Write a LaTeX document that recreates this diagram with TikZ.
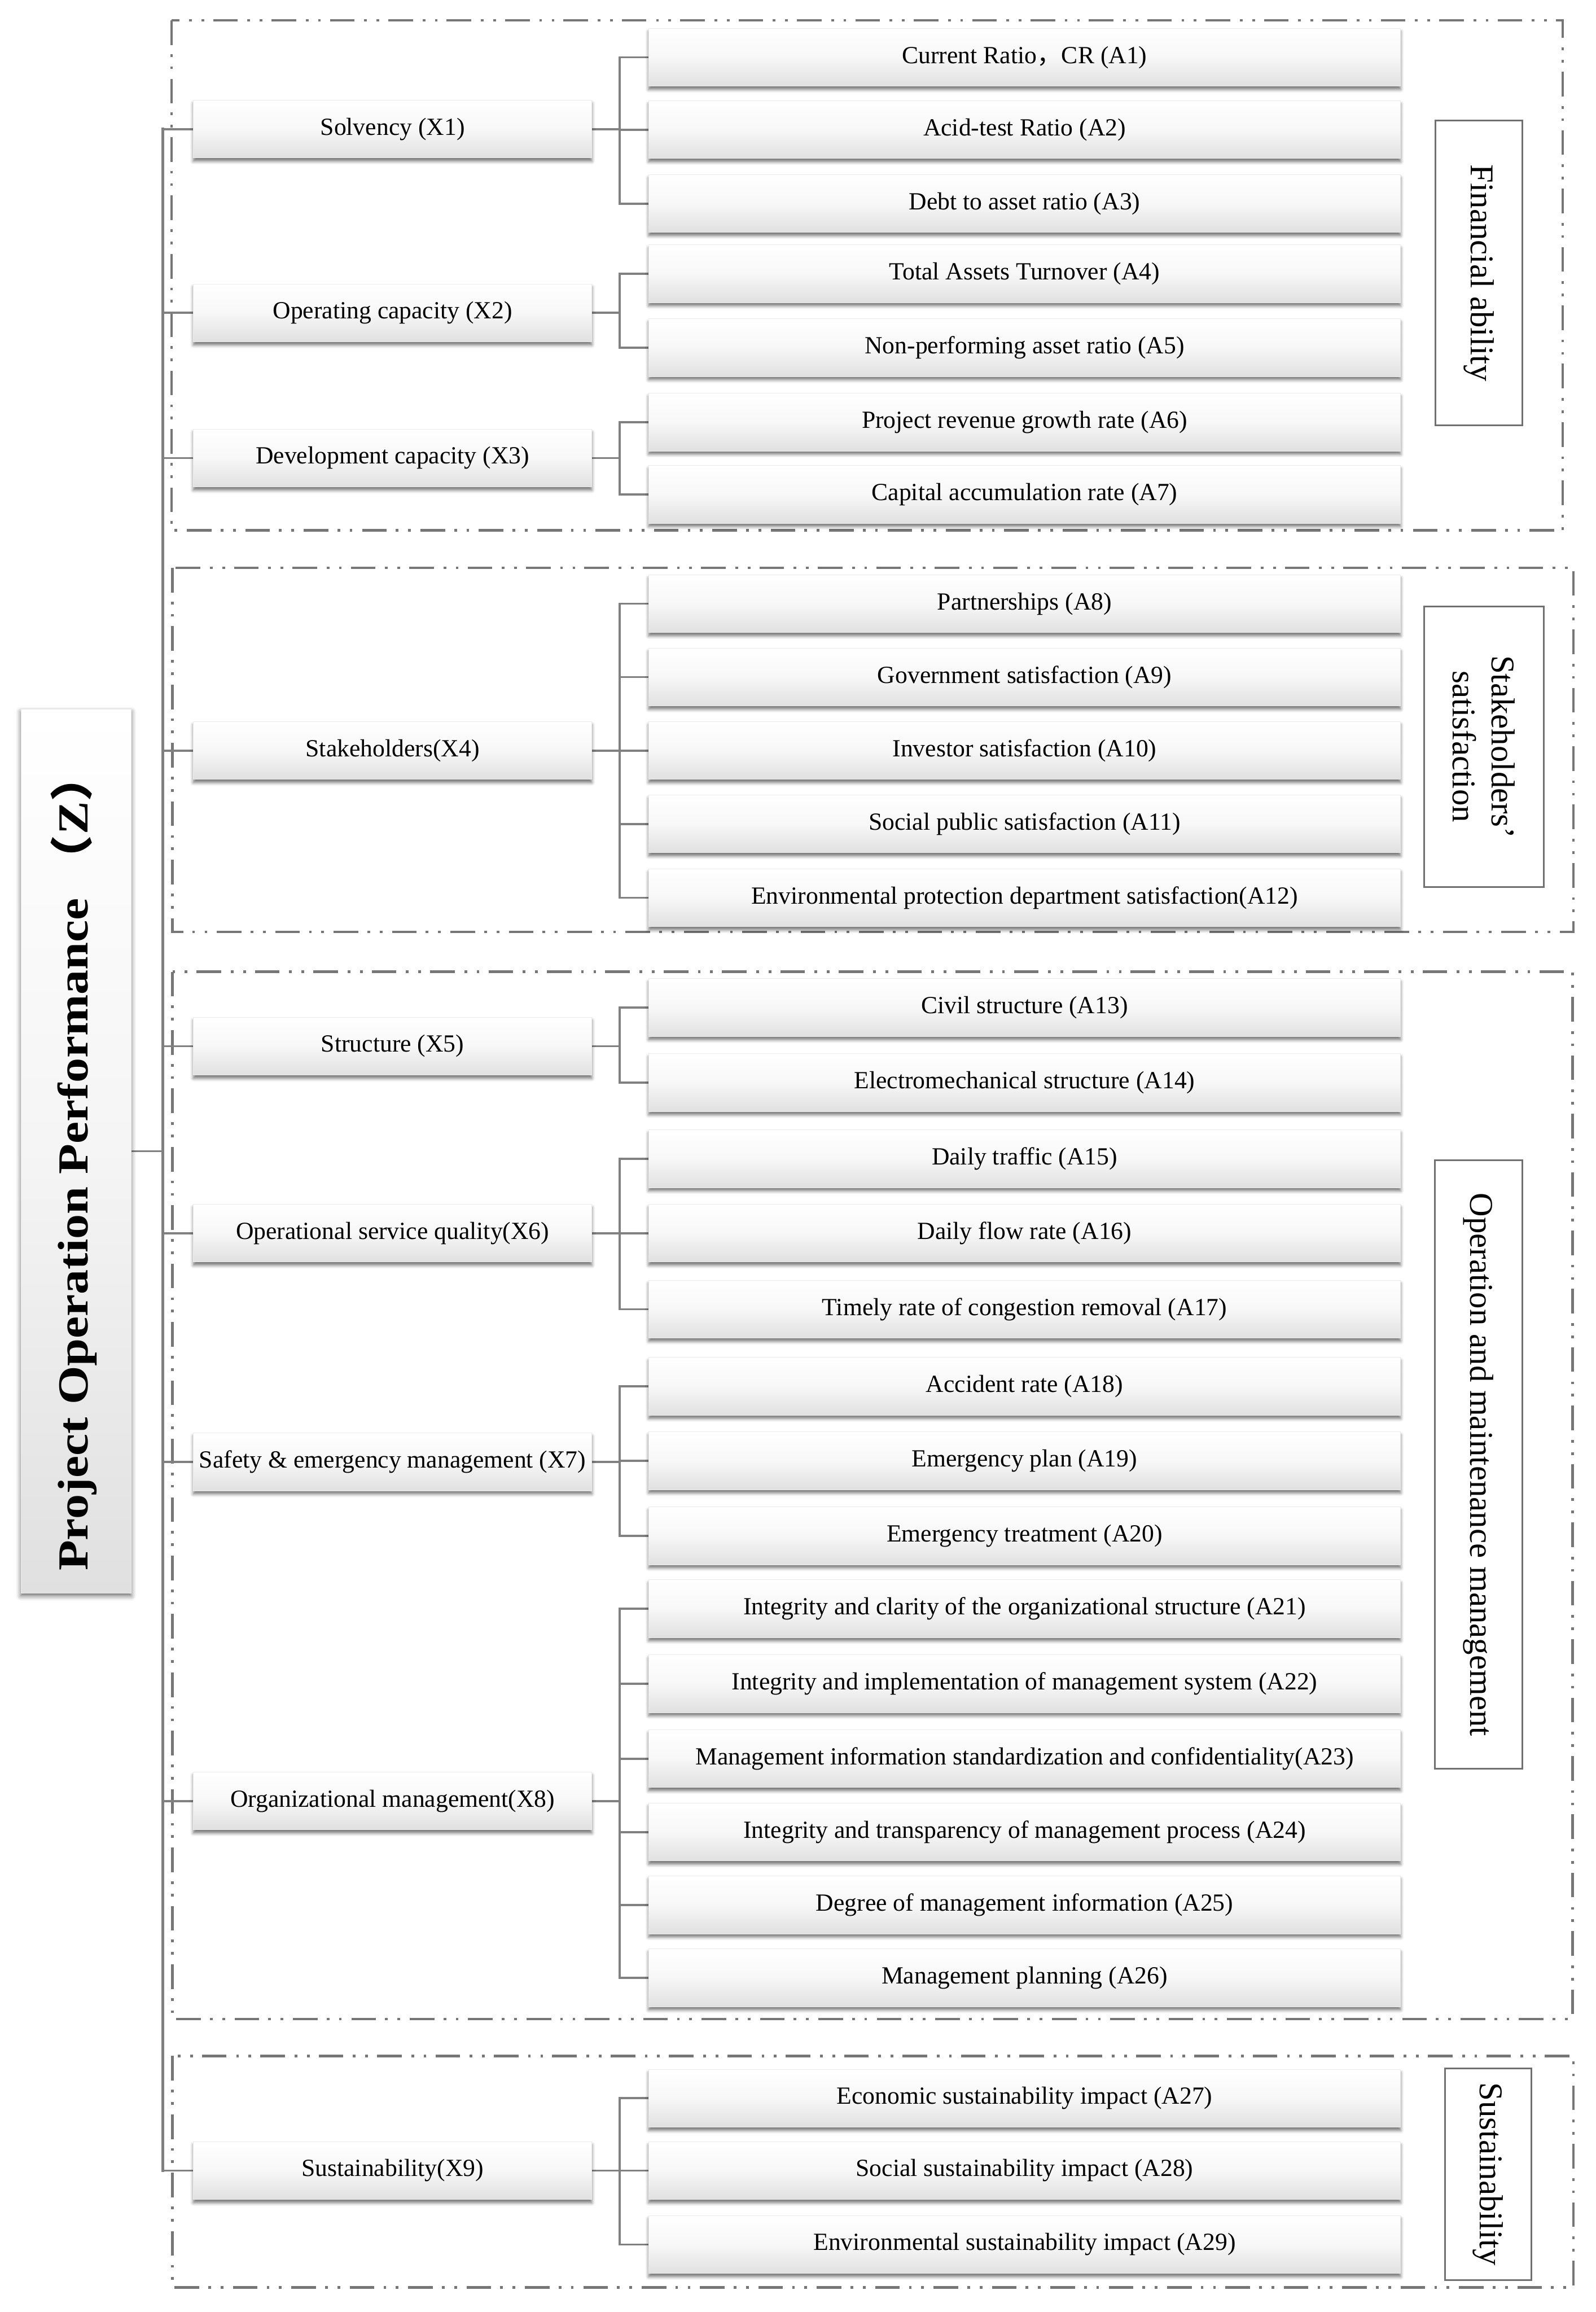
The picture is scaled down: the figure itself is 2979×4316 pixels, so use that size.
\documentclass[tikz,border=0pt]{standalone}
\usepackage{graphicx}
\usepackage{fontspec}
\setmainfont{Liberation Serif}
\newfontfamily\cjkfont{Noto Sans CJK SC}
\usetikzlibrary{shadows.blur}
\definecolor{lineGray}{RGB}{128,128,128}
\definecolor{dashGray}{RGB}{118,118,118}
\definecolor{catGray}{RGB}{112,112,112}
\definecolor{boxBot}{RGB}{224,224,224}
\pgfdeclarelayer{bg}
\pgfsetlayers{bg,main}
\begin{document}
\begin{tikzpicture}[x=1pt,y=-1pt,
  ibox/.style={rectangle, inner sep=0pt, minimum height=108pt,
    top color=white, bottom color=boxBot, middle color=white!97!black,
    draw=black!8, line width=1pt,
    font=\fontsize{46}{55}\selectfont,
    blur shadow={shadow xshift=0pt, shadow yshift=-6pt, shadow blur radius=6pt, shadow opacity=55}},
  xbox/.style={ibox, minimum width=744pt},
  abox/.style={ibox, minimum width=1404pt},
  rootbox/.style={rectangle, inner sep=0pt, minimum width=206pt, minimum height=1650pt,
    top color=white, bottom color=boxBot, middle color=white!96!black,
    draw=black!8, line width=1pt,
    blur shadow={shadow xshift=0pt, shadow yshift=-5pt, shadow blur radius=9pt, shadow opacity=60}},
  catbox/.style={rectangle, draw=catGray, line width=3pt, fill=white, rotate=-90,
    inner sep=0pt, align=center, font=\fontsize{62}{73}\selectfont},
  grp/.style={draw=dashGray, line width=4.5pt,
    dash pattern=on 46pt off 17pt on 5pt off 18pt on 5pt off 18pt},
  conn/.style={draw=lineGray, line width=4pt, line cap=rect},
  trunk/.style={draw=lineGray, line width=5pt, line cap=rect}
]
\useasboundingbox (0,0) rectangle (2979,4316);

% ---------- root ----------
\node[rootbox] (root) at (142,2149) {};
\node[rotate=90, inner sep=0pt, font=\fontsize{80}{96}\selectfont\bfseries] (rootT) at (138,2168)
  {\scalebox{1.16}[1]{Project Operation Performance\hspace{22pt}{\cjkfont （}Z{\cjkfont ）}}};

% ---------- second level ----------
\node[xbox] (X1) at (733,241)  {Solvency (X1)};
\node[xbox] (X2) at (733,584)  {Operating capacity (X2)};
\node[xbox] (X3) at (733,855)  {Development capacity (X3)};
\node[xbox] (X4) at (733,1401) {Stakeholders(X4)};
\node[xbox] (X5) at (733,1953) {Structure (X5)};
\node[xbox] (X6) at (733,2302) {Operational service quality(X6)};
\node[xbox] (X7) at (733,2729) {Safety \& emergency management (X7)};
\node[xbox] (X8) at (733,3362) {Organizational management(X8)};
\node[xbox] (X9) at (733,4052) {Sustainability(X9)};

% ---------- third level ----------
\node[abox] (A1)  at (1913,107)  {Current Ratio{\cjkfont ，}CR (A1)};
\node[abox] (A2)  at (1913,242)  {Acid-test Ratio (A2)};
\node[abox] (A3)  at (1913,380)  {Debt to asset ratio (A3)};
\node[abox] (A4)  at (1913,511)  {Total Assets Turnover (A4)};
\node[abox] (A5)  at (1913,649)  {Non-performing asset ratio (A5)};
\node[abox] (A6)  at (1913,788)  {Project revenue growth rate (A6)};
\node[abox] (A7)  at (1913,923)  {Capital accumulation rate (A7)};
\node[abox] (A8)  at (1913,1127) {Partnerships (A8)};
\node[abox] (A9)  at (1913,1264) {Government satisfaction (A9)};
\node[abox] (A10) at (1913,1401) {Investor satisfaction (A10)};
\node[abox] (A11) at (1913,1538) {Social public satisfaction (A11)};
\node[abox] (A12) at (1913,1676) {Environmental protection department satisfaction(A12)};
\node[abox] (A13) at (1913,1881) {Civil structure (A13)};
\node[abox] (A14) at (1913,2021) {Electromechanical structure (A14)};
\node[abox] (A15) at (1913,2163) {Daily traffic (A15)};
\node[abox] (A16) at (1913,2302) {Daily flow rate (A16)};
\node[abox] (A17) at (1913,2444) {Timely rate of congestion removal (A17)};
\node[abox] (A18) at (1913,2588) {Accident rate (A18)};
\node[abox] (A19) at (1913,2727) {Emergency plan (A19)};
\node[abox] (A20) at (1913,2867) {Emergency treatment (A20)};
\node[abox] (A21) at (1913,3003) {Integrity and clarity of the organizational structure (A21)};
\node[abox] (A22) at (1913,3143) {Integrity and implementation of management system (A22)};
\node[abox] (A23) at (1913,3283) {Management information standardization and confidentiality(A23)};
\node[abox] (A24) at (1913,3420) {Integrity and transparency of management process (A24)};
\node[abox] (A25) at (1913,3556) {Degree of management information (A25)};
\node[abox] (A26) at (1913,3692) {Management planning (A26)};
\node[abox] (A27) at (1913,3917) {Economic sustainability impact (A27)};
\node[abox] (A28) at (1913,4052) {Social sustainability impact (A28)};
\node[abox] (A29) at (1913,4190) {Environmental sustainability impact (A29)};

% ---------- category labels ----------
\node[catbox, minimum width=569pt, minimum height=162pt] (L1) at (2761,509.5) {Financial ability};
\node[catbox, minimum width=524pt, minimum height=223pt] (L2) at (2770.5,1394) {Stakeholders’\\satisfaction};
\node[catbox, minimum width=1136pt, minimum height=163pt] (L3) at (2760.5,2734) {Operation and maintenance management};
\node[catbox, minimum width=395pt, minimum height=161pt] (L4) at (2778.5,4058.5) {Sustainability};

% ---------- background: groups and connectors ----------
\coordinate (T) at (304,0);
\coordinate (B) at (1157,0);
\begin{pgfonlayer}{bg}
  \draw[grp] (320,38) rectangle (2918,990);
  \draw[grp] (322,1060) rectangle (2938,1740);
  \draw[grp] (322,1814) rectangle (2936,3769);
  \draw[grp] (322,3838) rectangle (2938,4270);

  % trunk
  \draw[trunk] (X1.west -| T) -- (X9.west -| T);
  \draw[conn] (root.east) -- (root.east -| T);
  \foreach \x in {X1,X2,X3,X4,X5,X6,X7,X8,X9}
    \draw[conn] (\x.west -| T) -- (\x.west);

  % branches
  \foreach \x/\first/\last/\list in {
      X1/A1/A3/{A1,A2,A3},
      X2/A4/A5/{A4,A5},
      X3/A6/A7/{A6,A7},
      X4/A8/A12/{A8,A9,A10,A11,A12},
      X5/A13/A14/{A13,A14},
      X6/A15/A17/{A15,A16,A17},
      X7/A18/A20/{A18,A19,A20},
      X8/A21/A26/{A21,A22,A23,A24,A25,A26},
      X9/A27/A29/{A27,A28,A29}} {
    \draw[conn] (\x.east) -- (\x.east -| B);
    \draw[conn] (\first.west -| B) -- (\last.west -| B);
    \foreach \a in \list
      \draw[conn] (\a.west -| B) -- (\a.west);
  }
\end{pgfonlayer}
\end{tikzpicture}
\end{document}
